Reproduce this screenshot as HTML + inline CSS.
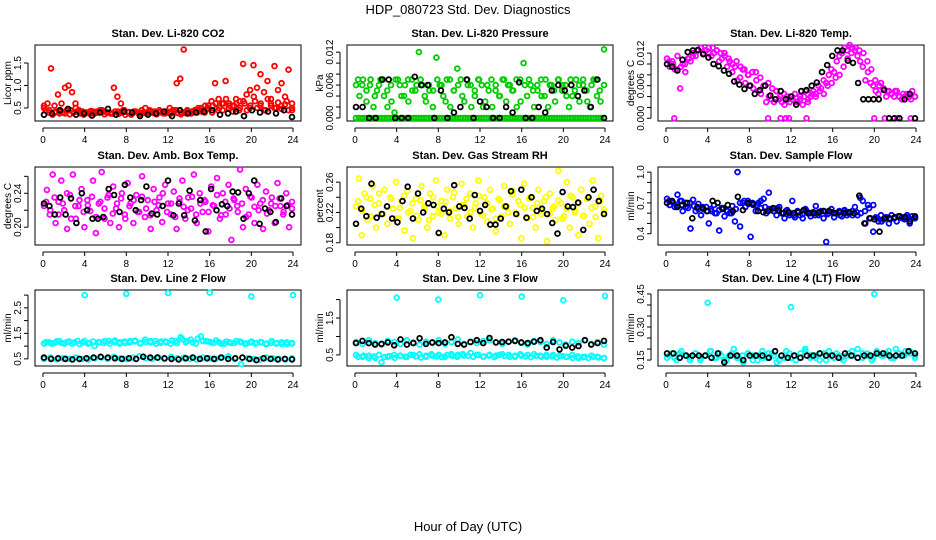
<!DOCTYPE html>
<html><head><meta charset="utf-8">
<style>
html,body{margin:0;padding:0;background:#fff;}
svg{display:block;font-family:"Liberation Sans",sans-serif;}
</style></head>
<body>
<svg id="chart" width="936" height="540" viewBox="0 0 936 540">
<text x="468" y="14" text-anchor="middle" font-size="13">HDP_080723  Std. Dev. Diagnostics</text>
<text x="468" y="531" text-anchor="middle" font-size="13">Hour of Day (UTC)</text>
</svg>
<script>
// ---------- data ----------
const hourTicks = [0,4,8,12,16,20,24];
const co2Red = [0.55,0.6,1.38,0.55,0.8,0.6,0.95,1.0,0.85,0.6,0.45,0.42,0.4,0.38,0.42,0.4,0.45,0.42,0.4,0.38,0.95,0.75,0.6,0.45,0.4,0.35,0.42,0.4,0.45,0.5,0.4,0.42,0.38,0.45,0.4,0.42,0.5,0.45,1.05,1.15,1.8,0.45,0.4,0.42,0.45,0.5,0.4,0.55,0.65,1.05,0.7,0.6,1.1,0.6,0.55,0.7,0.65,1.48,0.8,0.9,1.45,0.95,1.25,0.85,1.1,0.7,1.43,0.9,1.05,0.75,1.35,0.6];
const co2RedBase = [0.5,0.45,0.4,0.42,0.38,0.45,0.5,0.42,0.4,0.38,0.42,0.45,0.4,0.38,0.42,0.45,0.4,0.42,0.38,0.4,0.45,0.42,0.4,0.38,0.42,0.45,0.4,0.38,0.42,0.4,0.45,0.5,0.55,0.45,0.6,0.5,0.55,0.45,0.6,0.5,0.65,0.55,0.45,0.6,0.5,0.55,0.65,0.45];
const co2RedBand = [0.45,0.4,0.35,0.42,0.38,0.4,0.44,0.36,0.4,0.42,0.38,0.35,0.4,0.43,0.37,0.4,0.42,0.36,0.4,0.38,0.42,0.37,0.4,0.35,0.41,0.38,0.42,0.36,0.4,0.38,0.43,0.39,0.36,0.41,0.38,0.4,0.37,0.42,0.39,0.36,0.4,0.42,0.38,0.45,0.5,0.42,0.55,0.48,0.4,0.6,0.5,0.45,0.7,0.55,0.42,0.6,0.5,0.65,0.45,0.55,0.75,0.5,0.6,0.45,0.7,0.55,0.5,0.62,0.48,0.58,0.45,0.5];
const co2Black = [0.35,0.38,0.45,0.48,0.35,0.38,0.33,0.4,0.48,0.35,0.42,0.4,0.32,0.35,0.38,0.42,0.32,0.45,0.38,0.4,0.42,0.45,0.35,0.38,0.42,0.32,0.45,0.4,0.42,0.38,0.45,0.3];
const presGreen = [0.006,0.004,0.007,0.003,0.006,0.002,0.005,0.007,0.004,0.002,0.006,0.001,0.007,0.004,0.006,0.003,0.007,0.005,0.012,0.006,0.003,0.005,0.002,0.011,0.006,0.004,0.007,0.002,0.005,0.009,0.007,0.003,0.006,0.002,0.004,0.007,0.006,0.003,0.005,0.002,0.006,0.004,0.007,0.003,0.006,0.005,0.002,0.007,0.01,0.004,0.006,0.002,0.005,0.007,0.004,0.002,0.006,0.003,0.007,0.005,0.006,0.002,0.004,0.007,0.003,0.006,0.005,0.002,0.007,0.004,0.003,0.0125];
const presGreen2 = [0.007,0.006,0.005,0.007,0.004,0.006,0.007,0.005,0.003,0.007,0.006,0.004,0.007,0.005,0.006,0.007,0.004,0.006,0.005,0.007,0.006,0.003,0.007,0.005,0.006,0.004,0.007,0.006,0.005,0.007,0.002,0.006,0.007,0.005,0.004,0.007,0.006,0.005,0.007,0.003,0.006,0.007,0.005,0.006,0.004,0.007,0.006,0.005,0.007,0.006,0.004,0.007,0.005,0.006,0.007,0.003,0.006,0.007,0.005,0.006];
const presGreenZero = [0,0,0,0,0,0,0,0,0,0,0,0,0,0,0,0,0,0,0,0,0,0,0,0,0,0,0,0,0,0,0,0,0,0,0,0,0,0,0,0,0,0,0,0,0,0,0,0,0,0,0,0,0,0,0,0,0,0,0,0,0,0,0,0,0,0,0,0,0,0,0,0,0,0,0,0,0,0,0,0,0,0,0,0,0,0,0,0,0,0,0,0,0,0,0,0];
const presBlack = [0.002,0.002,0,0,0.007,0.007,0,0,0,0.0075,0.006,0.006,0,0.005,0,0.001,0.002,0.007,0,0.003,0.002,0,0,0.002,0.001,0.0065,0,0,0.002,0.001,0.005,0.006,0.005,0.006,0.004,0.005,0.002,0.007,0];
const tempMag = [0.011,0.0095,0.0105,0.009,0.0115,0.0055,0.01,0.0085,0.011,0.0105,0.012,0.0115,0.0125,0.013,0.012,0.0125,0.013,0.0115,0.012,0.0125,0.0105,0.011,0.012,0.0095,0.0105,0.0085,0.0095,0.007,0.0075,0.009,0.0065,0.008,0.006,0.0055,0.0085,0.005,0.0045,0.006,0.003,0.004,0.0035,0.003,0.005,0.0035,0.003,0.0025,0.004,0.003,0.0035,0.0045,0.003,0.004,0.0025,0.005,0.0035,0.004,0.005,0.0045,0.006,0.0055,0.007,0.0065,0.008,0.009,0.0085,0.0105,0.0115,0.012,0.013,0.0125,0.0135,0.013,0.0125,0.0115,0.0105,0.0095,0.007,0.0085,0.0065,0.006,0.005,0.0045,0.0065,0.0055,0.004,0.005,0.0045,0.004,0.005,0.004,0.0035,0.004,0.0045,0.004,0.005,0.004];
const tempMag2 = [0.0105,0.01,0.009,0.0095,0.01,0.011,0.0115,0.0125,0.013,0.0125,0.012,0.013,0.0125,0.012,0.0115,0.011,0.01,0.0105,0.0095,0.009,0.008,0.0085,0.007,0.0075,0.006,0.0065,0.0055,0.005,0.004,0.0045,0.0035,0.004,0.003,0.0035,0.004,0.003,0.0045,0.004,0.005,0.0045,0.006,0.0065,0.0075,0.008,0.0095,0.011,0.012,0.013,0.0125,0.012,0.0105,0.009,0.007,0.006,0.0055,0.005,0.0045,0.005,0.004,0.0045,0.004,0.0035,0.004];
const tempMagZero = [0,0,0,0,0,0,0,0,0,0];
const tempMagZeroHour = [0.8,9.8,11,11.5,11.8,13.5,20,21,22.2,23.5];
const tempBlack = [0.01,0.0095,0.0088,0.0108,0.0122,0.0125,0.0126,0.0118,0.0112,0.01,0.0096,0.0088,0.0082,0.0068,0.0062,0.0054,0.006,0.0045,0.0052,0.006,0.0042,0.0035,0.005,0.0035,0.004,0.0025,0.005,0.0052,0.006,0.0066,0.0085,0.0098,0.0115,0.0125,0.0125,0.0106,0.0102,0.0065,0.0035,0.0035,0.0035,0.0035,0.0052,0,0,0,0.0035,0.0045,0];
const ambMag = [0.225,0.244,0.215,0.262,0.205,0.23,0.255,0.22,0.198,0.238,0.262,0.21,0.225,0.245,0.2,0.232,0.219,0.255,0.193,0.228,0.265,0.21,0.235,0.205,0.248,0.222,0.2,0.24,0.215,0.252,0.228,0.205,0.238,0.218,0.26,0.212,0.232,0.198,0.245,0.22,0.235,0.206,0.25,0.228,0.215,0.242,0.198,0.23,0.255,0.21,0.235,0.222,0.262,0.205,0.24,0.218,0.23,0.195,0.248,0.225,0.258,0.21,0.24,0.215,0.25,0.185,0.232,0.225,0.268,0.2,0.245,0.215,0.235,0.205,0.25,0.228,0.198,0.242,0.22,0.235,0.205,0.252,0.225,0.215,0.24,0.2,0.23];
const ambMag2 = [0.23,0.22,0.235,0.215,0.228,0.24,0.21,0.225,0.232,0.218,0.226,0.236,0.212,0.23,0.222,0.238,0.216,0.228,0.234,0.21,0.225,0.232,0.218,0.236,0.222,0.214,0.23,0.226,0.24,0.218,0.228,0.212,0.234,0.224,0.22,0.236,0.215,0.228,0.232,0.218,0.226,0.238,0.214,0.23,0.222,0.234,0.218,0.228,0.212,0.236,0.224,0.22,0.232,0.216,0.228,0.225,0.234,0.218,0.226,0.222];
const ambBlack = [0.228,0.225,0.215,0.235,0.215,0.234,0.205,0.24,0.22,0.21,0.21,0.212,0.245,0.238,0.218,0.25,0.235,0.22,0.232,0.248,0.216,0.215,0.225,0.255,0.214,0.228,0.214,0.243,0.208,0.232,0.195,0.245,0.22,0.227,0.225,0.242,0.241,0.21,0.24,0.255,0.204,0.222,0.218,0.206,0.234,0.225,0.215];
const rhYel = [0.228,0.265,0.19,0.245,0.21,0.238,0.255,0.2,0.232,0.218,0.25,0.205,0.24,0.225,0.26,0.212,0.235,0.196,0.248,0.222,0.186,0.238,0.21,0.255,0.228,0.2,0.245,0.215,0.262,0.22,0.235,0.19,0.25,0.212,0.24,0.225,0.205,0.258,0.23,0.215,0.245,0.2,0.232,0.262,0.218,0.24,0.208,0.25,0.225,0.195,0.238,0.215,0.255,0.228,0.205,0.248,0.22,0.235,0.186,0.258,0.212,0.24,0.226,0.2,0.25,0.218,0.235,0.182,0.245,0.225,0.21,0.275,0.232,0.215,0.26,0.2,0.24,0.222,0.19,0.25,0.215,0.238,0.205,0.262,0.228,0.186,0.242,0.22];
const rhYel2 = [0.235,0.222,0.24,0.215,0.23,0.245,0.218,0.228,0.238,0.212,0.226,0.242,0.22,0.232,0.216,0.236,0.225,0.21,0.24,0.228,0.218,0.234,0.222,0.246,0.214,0.23,0.238,0.22,0.226,0.242,0.216,0.232,0.224,0.212,0.236,0.228,0.22,0.244,0.218,0.23,0.226,0.238,0.214,0.232,0.222,0.24,0.218,0.228,0.236,0.212,0.225,0.242,0.22,0.232,0.216,0.238,0.226,0.214,0.235,0.224];
const rhBlack = [0.205,0.225,0.215,0.258,0.213,0.218,0.228,0.212,0.207,0.235,0.254,0.212,0.245,0.22,0.232,0.23,0.193,0.225,0.22,0.256,0.228,0.226,0.212,0.243,0.222,0.23,0.204,0.204,0.212,0.228,0.248,0.218,0.25,0.213,0.24,0.222,0.225,0.218,0.206,0.192,0.247,0.228,0.227,0.233,0.197,0.24,0.25,0.235,0.218];
const flowBlue = [0.74,0.68,0.71,0.66,0.78,0.72,0.62,0.7,0.65,0.45,0.73,0.62,0.69,0.58,0.64,0.66,0.5,0.62,0.68,0.6,0.43,0.65,0.57,0.62,0.6,0.67,0.52,1.0,0.47,0.7,0.66,0.72,0.37,0.68,0.62,0.7,0.65,0.74,0.6,0.8,0.64,0.62,0.58,0.66,0.6,0.55,0.63,0.58,0.72,0.56,0.62,0.58,0.55,0.64,0.6,0.57,0.61,0.67,0.58,0.62,0.55,0.32,0.6,0.64,0.56,0.6,0.62,0.57,0.63,0.58,0.6,0.62,0.66,0.58,0.75,0.72,0.5,0.68,0.55,0.42,0.56,0.52,0.58,0.54,0.56,0.5,0.58,0.55,0.52,0.57,0.56,0.54,0.58,0.5,0.57,0.55];
const flowBlue2 = [0.72,0.7,0.68,0.72,0.66,0.7,0.67,0.64,0.66,0.62,0.64,0.6,0.63,0.65,0.62,0.6,0.64,0.7,0.72,0.69,0.7,0.68,0.72,0.66,0.64,0.62,0.65,0.6,0.62,0.6,0.58,0.61,0.59,0.62,0.6,0.58,0.6,0.62,0.59,0.61,0.6,0.58,0.62,0.6,0.58,0.61,0.6,0.62,0.65,0.68,0.55,0.52,0.56,0.54,0.55,0.57,0.55,0.56,0.54,0.56];
const flowBlack = [0.7,0.72,0.66,0.68,0.7,0.55,0.66,0.65,0.62,0.72,0.7,0.64,0.68,0.62,0.76,0.63,0.7,0.69,0.62,0.61,0.62,0.65,0.63,0.6,0.61,0.6,0.61,0.63,0.6,0.6,0.61,0.62,0.62,0.6,0.61,0.6,0.61,0.6,0.77,0.5,0.55,0.54,0.42,0.55,0.55,0.56,0.57,0.56,0.52,0.57];
const l2CyanUp = [1.1,1.15,1.12,1.2,1.1,1.18,1.15,1.08,1.2,1.12,1.0,1.15,1.2,1.1,1.22,1.15,1.12,1.2,1.18,1.1,1.25,1.15,1.2,1.12,1.18,1.1,1.2,1.35,1.15,1.25,1.1,1.38,1.2,1.15,1.22,1.1,1.18,1.12,1.2,1.15,1.1,1.18,1.12,1.15,1.1,1.2,1.12,1.08,1.15,1.1];
const l2CyanUp2 = [1.15,1.1,1.18,1.12,1.16,1.1,1.2,1.14,1.1,1.18,1.15,1.12,1.2,1.16,1.1,1.18,1.14,1.22,1.12,1.16,1.2,1.1,1.18,1.15,1.22,1.12,1.28,1.2,1.15,1.3,1.2,1.18,1.12,1.16,1.1,1.15,1.12,1.18,1.1,1.14,1.1,1.16,1.08,1.12,1.1,1.15,1.08,1.12];
const l2CyanLow = [0.5,0.55,0.48,0.52,0.5,0.55,0.5,0.48,0.52,0.55,0.5,0.58,0.52,0.5,0.55,0.6,0.52,0.5,0.55,0.5,0.58,0.52,0.55,0.5,0.48,0.55,0.52,0.5,0.55,0.6,0.5,0.3,0.52,0.5,0.48,0.55,0.52,0.5,0.48,0.52];
const l2CyanOut = [3.0,3.05,3.08,3.1,2.95,3.0];
const l2CyanOutHour = [4,8,12,16,20,24];
const l2Black = [0.55,0.5,0.52,0.5,0.48,0.5,0.52,0.55,0.58,0.55,0.52,0.5,0.52,0.5,0.58,0.55,0.55,0.52,0.5,0.48,0.52,0.55,0.5,0.52,0.5,0.55,0.5,0.52,0.55,0.5,0.45,0.52,0.5,0.48,0.5,0.48];
const l3CyanUp = [0.85,0.8,0.9,0.82,0.78,0.88,0.85,0.8,0.9,0.84,0.78,0.86,0.82,0.9,0.8,0.85,0.92,0.8,0.86,0.82,0.88,0.9,0.84,0.8,0.86,0.9,0.82,0.78,0.88,0.85,0.8,0.9,0.84,0.78,0.86,0.82,0.9,0.8,0.85,0.78];
const l3CyanLow = [0.5,0.45,0.48,0.42,0.3,0.45,0.5,0.48,0.45,0.5,0.52,0.45,0.48,0.5,0.45,0.52,0.5,0.48,0.55,0.5,0.45,0.5,0.48,0.52,0.5,0.45,0.48,0.5,0.52,0.48,0.45,0.5,0.48,0.45,0.5,0.42,0.45,0.48,0.45,0.42];
const l3CyanLow2 = [0.45,0.48,0.42,0.46,0.5,0.44,0.47,0.42,0.48,0.45,0.5,0.46,0.43,0.48,0.52,0.46,0.44,0.5,0.47,0.45,0.52,0.48,0.45,0.5,0.46,0.48,0.44,0.5,0.47,0.45,0.48,0.52,0.46,0.44,0.48,0.45,0.5,0.46,0.43,0.47,0.45,0.42,0.46,0.44,0.42,0.45,0.43,0.41];
const l3CyanOut = [2.05,2.0,2.12,2.08,1.98,2.1];
const l3CyanOutHour = [4,8,12,16,20,24];
const l3Black = [0.82,0.88,0.82,0.78,0.8,0.84,0.76,0.92,0.78,0.82,0.95,0.8,0.84,0.82,0.84,0.98,0.8,0.78,0.85,0.9,0.82,0.96,0.84,0.85,0.86,0.88,0.84,0.82,0.86,0.9,0.7,0.85,0.65,0.75,0.7,0.74,0.9,0.78,0.82,0.88];
const l4Cyan = [0.16,0.18,0.15,0.19,0.17,0.16,0.18,0.15,0.17,0.19,0.16,0.18,0.15,0.17,0.2,0.16,0.14,0.18,0.17,0.15,0.19,0.16,0.18,0.14,0.17,0.19,0.16,0.15,0.18,0.2,0.16,0.17,0.15,0.18,0.19,0.16,0.17,0.15,0.18,0.17,0.2,0.16,0.18,0.15,0.19,0.17,0.18,0.16,0.2,0.17,0.19,0.18,0.16];
const l4Cyan2 = [0.17,0.16,0.18,0.17,0.15,0.18,0.16,0.17,0.19,0.16,0.17,0.15,0.18,0.16,0.17,0.18,0.15,0.17,0.16,0.18,0.17,0.15,0.16,0.18,0.17,0.16,0.19,0.17,0.16,0.18,0.15,0.17,0.18,0.16,0.17,0.19,0.16,0.18,0.17,0.16,0.18,0.17,0.19,0.16,0.18,0.17,0.19,0.17];
const l4CyanOut = [0.41,0.39,0.45];
const l4CyanOutHour = [4,12,20];
const l4Black = [0.18,0.18,0.16,0.17,0.17,0.17,0.17,0.16,0.18,0.14,0.17,0.17,0.15,0.17,0.17,0.17,0.16,0.19,0.17,0.16,0.17,0.16,0.17,0.17,0.18,0.17,0.17,0.16,0.18,0.17,0.16,0.17,0.17,0.18,0.18,0.17,0.17,0.17,0.19,0.18];

// ---------- layout ----------
const cols = [[35,301],[347,613],[658,924]];
const rows = [[45,121],[167,245],[290,366]];
const NS = 'http://www.w3.org/2000/svg';
const svg = document.getElementById('chart');
function mk(tag, attrs, parent){
  const e = document.createElementNS(NS, tag);
  for (const k in attrs) e.setAttribute(k, attrs[k]);
  (parent||svg).appendChild(e);
  return e;
}
function evenHours(n, off){ const h=[]; const o = off||0; for(let i=0;i<n;i++) h.push(0.1 + o + i*(23.8-o)/(n-1)); return h; }

function panel(ci, ri, name, title, ytitle, ylo, yhi, yticks, ylabels, series){
  const [x0,x1] = cols[ci], [y0,y1] = rows[ri];
  const g = mk('g', {});
  
  
  const xs = h => (x0+8) + h/24*((x1-8)-(x0+8));
  const ys = v => y1 - (v-ylo)/(yhi-ylo)*(y1-y0);
  const t = mk('text', {x:(x0+x1)/2, y:y0-8, 'text-anchor':'middle', 'font-size':11, 'font-weight':'bold'}, g);
  t.textContent = title;
  
  
  const box = mk('rect', {x:x0, y:y0, width:x1-x0, height:y1-y0, fill:'none', stroke:'#000', 'stroke-width':1}, g);
  
  
  const xa = mk('g', {}, g);
  
  
  mk('line', {x1:xs(0), x2:xs(24), y1:y1+7, y2:y1+7, stroke:'#000'}, xa);
  hourTicks.forEach(h => {
    mk('line', {x1:xs(h), x2:xs(h), y1:y1+7, y2:y1+11, stroke:'#000'}, xa);
    const l = mk('text', {x:xs(h), y:y1+22, 'text-anchor':'middle', 'font-size':10}, xa);
    l.textContent = h;
    
    
  });
  const ya = mk('g', {}, g);
  
  
  mk('line', {x1:x0-7, x2:x0-7, y1:ys(yticks[0]), y2:ys(yticks[yticks.length-1]), stroke:'#000'}, ya);
  yticks.forEach((v,i) => {
    mk('line', {x1:x0-11, x2:x0-7, y1:ys(v), y2:ys(v), stroke:'#000'}, ya);
    if (ylabels[i] !== '') {
      const l = mk('text', {x:x0-14, y:ys(v), 'text-anchor':'middle', 'font-size':10, transform:`rotate(-90 ${x0-14} ${ys(v)})`}, ya);
      l.textContent = ylabels[i];
      
      
    }
  });
  const yt = mk('text', {x:x0-24, y:(y0+y1)/2, 'text-anchor':'middle', 'font-size':10, transform:`rotate(-90 ${x0-24} ${(y0+y1)/2})`}, g);
  yt.textContent = ytitle;
  
  
  series.forEach(s => {
    const sg = mk('g', {fill:'none', stroke:s.color, 'stroke-width':1.8}, g);
    
    
    const hrs = s.hours || evenHours(s.values.length, s.off);
    s.values.forEach((v,i) => {
      const c = mk('circle', {cx:xs(hrs[i]).toFixed(1), cy:ys(v).toFixed(1), r:2.4}, sg);
      
      
    });
  });
}

const p3 = [0,0.002,0.004,0.006,0.008,0.010,0.012];
panel(0,0,'co2','Stan. Dev. Li-820 CO2','Licor ppm',0.21,1.9,[0.5,1.0,1.5],['0.5','1.0','1.5'],
  [{id:'red-band',color:'#ff0000',values:co2RedBand,off:0.15},{id:'red-base',color:'#ff0000',values:co2RedBase},{id:'red',color:'#ff0000',values:co2Red},{id:'black',color:'#000',values:co2Black}]);
panel(1,0,'pressure','Stan. Dev. Li-820 Pressure','kPa',-0.00055,0.0133,p3,['0.000','','','0.006','','','0.012'],
  [{id:'green-zero',color:'#00cc00',values:presGreenZero},{id:'green2',color:'#00cc00',values:presGreen2,off:0.2},{id:'green',color:'#00cc00',values:presGreen},{id:'black',color:'#000',values:presBlack}]);
panel(2,0,'temp','Stan. Dev. Li-820 Temp.','degrees C',-0.0005,0.0135,p3,['0.000','','','0.006','','','0.012'],
  [{id:'magenta',color:'#ff00ff',values:tempMag},{id:'magenta2',color:'#ff00ff',values:tempMag2,off:0.2},{id:'magenta-zero',color:'#ff00ff',values:tempMagZero,hours:tempMagZeroHour},{id:'black',color:'#000',values:tempBlack}]);
panel(0,1,'amb-box','Stan. Dev. Amb. Box Temp.','degrees C',0.179,0.271,[0.20,0.22,0.24,0.26],['0.20','','0.24',''],
  [{id:'magenta',color:'#ff00ff',values:ambMag},{id:'magenta2',color:'#ff00ff',values:ambMag2,off:0.2},{id:'black',color:'#000',values:ambBlack}]);
panel(1,1,'rh','Stan. Dev. Gas Stream RH','percent',0.177,0.28,[0.18,0.20,0.22,0.24,0.26],['0.18','','0.22','','0.26'],
  [{id:'yellow',color:'#ffff00',values:rhYel},{id:'yellow2',color:'#ffff00',values:rhYel2,off:0.2},{id:'black',color:'#000',values:rhBlack}]);
panel(2,1,'sample-flow','Stan. Dev. Sample Flow','ml/min',0.29,1.05,[0.4,0.5,0.6,0.7,0.8,0.9,1.0],['0.4','','','0.7','','','1.0'],
  [{id:'blue',color:'#0000ff',values:flowBlue},{id:'blue2',color:'#0000ff',values:flowBlue2,off:0.2},{id:'black',color:'#000',values:flowBlack}]);
panel(0,2,'line2','Stan. Dev. Line 2 Flow','ml/min',0.22,3.2,[0.5,1.0,1.5,2.0,2.5,3.0],['0.5','','1.5','','2.5',''],
  [{id:'cyan-up',color:'#00ffff',values:l2CyanUp},{id:'cyan-up2',color:'#00ffff',values:l2CyanUp2,off:0.2},{id:'cyan-low',color:'#00ffff',values:l2CyanLow},{id:'cyan-out',color:'#00ffff',values:l2CyanOut,hours:l2CyanOutHour},{id:'black',color:'#000',values:l2Black}]);
panel(1,2,'line3','Stan. Dev. Line 3 Flow','ml/min',0.2,2.26,[0.5,1.0,1.5,2.0],['0.5','','1.5',''],
  [{id:'cyan-up',color:'#00ffff',values:l3CyanUp},{id:'cyan-low',color:'#00ffff',values:l3CyanLow},{id:'cyan-low2',color:'#00ffff',values:l3CyanLow2,off:0.2},{id:'cyan-out',color:'#00ffff',values:l3CyanOut,hours:l3CyanOutHour},{id:'black',color:'#000',values:l3Black}]);
panel(2,2,'line4','Stan. Dev. Line 4 (LT) Flow','ml/min',0.123,0.468,[0.15,0.20,0.25,0.30,0.35,0.40,0.45],['0.15','','','0.30','','','0.45'],
  [{id:'cyan',color:'#00ffff',values:l4Cyan},{id:'cyan2',color:'#00ffff',values:l4Cyan2,off:0.2},{id:'cyan-out',color:'#00ffff',values:l4CyanOut,hours:l4CyanOutHour},{id:'black',color:'#000',values:l4Black}]);
</script>
</body></html>
